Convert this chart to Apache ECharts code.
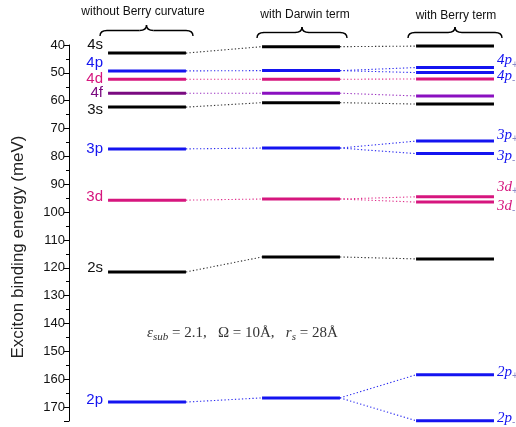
<!DOCTYPE html>
<html>
<head>
<meta charset="utf-8">
<script src="https://cdn.jsdelivr.net/npm/echarts@6/dist/echarts.min.js"></script>
<style>html,body{margin:0;padding:0;background:#fff}#c{width:516px;height:427px}</style>
</head>
<body>
<div id="c"></div>
<script>
// ---- data ----
const columnTitles = ['without Berry curvature', 'with Darwin term', 'with Berry term'];
const levelNames = ['4s', '4p', '4d', '4f', '3s', '3p', '3d', '2s', '2p'];
const noBerry = [42.9, 49.3, 52.3, 57.3, 62.3, 77.3, 95.7, 121.5, 168.2];
const darwin = [40.6, 49.2, 52.3, 57.3, 60.7, 77.0, 95.3, 116.1, 166.7];
const berryNames = ['4s', '4p+', '4p-', '4d', '4f', '3s', '3p+', '3p-', '3d+', '3d-', '2s', '2p+', '2p-'];
const berry = [40.4, 48.1, 49.9, 52.2, 58.3, 61.2, 74.5, 79.0, 94.5, 96.4, 116.8, 158.4, 174.9];
const yTicks = [40, 50, 60, 70, 80, 90, 100, 110, 120, 130, 140, 150, 160, 170];

// ---- styles ----
const barColor = {s: '#000000', p: '#1414f0', d: '#d6167e', f: '#7a0a80'};
const barColor2 = {s: '#000000', p: '#1414f0', d: '#d6167e', f: '#8a10c0'};
const dotColor = {s: '#333333', p: '#2a2af0', d: '#e0308c', f: '#9a30c0'};
const leftLabelDy = {'4s': -8, '4p': -8, '4d': 0, '4f': 0, '3s': 3, '3p': 0, '3d': -3, '2s': -4, '2p': -2};
const rightLabelDy = {'4p+': -7, '4p-': 3, '3p+': -6, '3p-': 2, '3d+': -10, '3d-': 4, '2p+': -3, '2p-': -3};
const HALF = 0.253;
const fam = n => n[1];

const cols = [
  {names: levelNames, vals: noBerry, colors: barColor},
  {names: levelNames, vals: darwin, colors: barColor2},
  {names: berryNames, vals: berry, colors: barColor2}
];

const bars = [];
cols.forEach((c, ci) => c.names.forEach((n, i) => bars.push({x: ci + 1, e: c.vals[i], name: n, col: ci, color: c.colors[fam(n)]})));

const links = [];
levelNames.forEach((n, i) => links.push({x1: 1 + HALF, e1: noBerry[i], x2: 2 - HALF, e2: darwin[i], color: dotColor[fam(n)]}));
levelNames.forEach((n, i) => {
  berryNames.forEach((b, j) => {
    if (b.slice(0, 2) === n) links.push({x1: 2 + HALF, e1: darwin[i], x2: 3 - HALF, e2: berry[j], color: dotColor[fam(n)]});
  });
});

const chart = echarts.init(document.getElementById('c'), null, {renderer: 'canvas'});

function brace(x0, x1, yT, yB) {
  const ym = (yT + yB) / 2, xc = (x0 + x1) / 2, r = 7;
  const st = {stroke: '#000', fill: null, lineWidth: 1.4};
  const q = (ax, ay, cx, cy, bx, by) => ({type: 'bezierCurve', shape: {x1: ax, y1: ay, cpx1: cx, cpy1: cy, x2: bx, y2: by}, style: st});
  const l = (ax, ay, bx, by) => ({type: 'line', shape: {x1: ax, y1: ay, x2: bx, y2: by}, style: st});
  return [
    q(x0, yB, x0, ym, x0 + r, ym),
    l(x0 + r, ym, xc - r, ym),
    q(xc - r, ym, xc, ym, xc, yT),
    q(xc, yT, xc, ym, xc + r, ym),
    l(xc + r, ym, x1 - r, ym),
    q(x1 - r, ym, x1, ym, x1, yB)
  ];
}

chart.setOption({
  animation: false,
  grid: {left: 69, right: 0, top: 45, bottom: 6},
  xAxis: {type: 'value', min: 0.4935, max: 3.396, show: false},
  yAxis: {
    type: 'value', inverse: true, min: 40, max: 175, interval: 10,
    axisLine: {show: true, onZero: false, lineStyle: {color: '#000', width: 1}},
    axisTick: {show: true, length: 5, lineStyle: {color: '#000'}},
    minorTick: {show: true, splitNumber: 2, length: 3, lineStyle: {color: '#000'}},
    splitLine: {show: false},
    axisLabel: {color: '#111', fontSize: 13, fontFamily: 'Liberation Sans, Arial', margin: 4, showMaxLabel: false,
      formatter: v => (yTicks.indexOf(v) >= 0 ? String(v) : '')}
  },
  series: [
    {
      type: 'custom', coordinateSystem: 'cartesian2d', clip: false,
      data: links.map(l => [l.x1, l.e1, l.x2, l.e2]),
      renderItem: (params, api) => {
        const l = links[params.dataIndex];
        const a = api.coord([l.x1, l.e1]), b = api.coord([l.x2, l.e2]);
        return {type: 'line', shape: {x1: a[0], y1: a[1], x2: b[0], y2: b[1]},
          style: {stroke: l.color, lineWidth: 1.1, lineDash: [1.3, 2.2]}};
      }
    },
    {
      type: 'custom', coordinateSystem: 'cartesian2d', clip: false,
      data: bars.map(b => [b.x, b.e]),
      renderItem: (params, api) => {
        const b = bars[params.dataIndex];
        const a = api.coord([b.x - HALF, b.e]), c = api.coord([b.x + HALF, b.e]);
        const children = [{type: 'line', shape: {x1: a[0], y1: a[1], x2: c[0], y2: c[1]},
          style: {stroke: b.color, lineWidth: 3}}];
        if (b.col === 0) {
          children.push({type: 'text', x: a[0] - 5, y: a[1] + leftLabelDy[b.name],
            style: {text: b.name, fill: b.color === '#000000' ? '#111' : b.color, font: '15px "Liberation Sans", Arial',
              align: 'right', verticalAlign: 'middle'}});
        }
        if (b.col === 2 && rightLabelDy[b.name] !== undefined) {
          const main = b.name.slice(0, 2), sub = b.name[2];
          children.push({type: 'text', x: c[0] + 3, y: c[1] + rightLabelDy[b.name],
            style: {text: `{m|${main}}{s|${sub}}`, align: 'left', verticalAlign: 'middle',
              rich: {
                m: {fill: b.color, font: 'italic 15px "Liberation Serif", "DejaVu Serif", serif'},
                s: {fill: '#8888c8', font: '10px "Liberation Sans", Arial', padding: [9, 0, 0, 0]}
              }}});
        }
        return {type: 'group', children};
      }
    }
  ],
  graphic: [
    {type: 'text', x: 143, y: 12, style: {text: columnTitles[0], font: '12px "Liberation Sans", Arial', fill: '#111', align: 'center', verticalAlign: 'middle'}},
    {type: 'text', x: 305, y: 15, style: {text: columnTitles[1], font: '12px "Liberation Sans", Arial', fill: '#111', align: 'center', verticalAlign: 'middle'}},
    {type: 'text', x: 456, y: 16, style: {text: columnTitles[2], font: '12px "Liberation Sans", Arial', fill: '#111', align: 'center', verticalAlign: 'middle'}},
    ...brace(100, 193, 25, 36),
    ...brace(257, 347, 27, 38),
    ...brace(408, 502, 27, 38),
    {type: 'text', x: 18, y: 247, rotation: Math.PI / 2,
      style: {text: 'Exciton binding energy (meV)', font: '17px "Liberation Sans", Arial', fill: '#222', align: 'center', verticalAlign: 'middle'}},
    {type: 'text', x: 147, y: 333,
      style: {text: '{i|ε}{b|sub}{n| = 2.1,   Ω = 10Å,   }{i|r}{b|s}{n| = 28Å}', align: 'left', verticalAlign: 'middle',
        rich: {
          i: {font: 'italic 15px "Liberation Serif", serif', fill: '#333'},
          b: {font: 'italic 11px "Liberation Serif", serif', fill: '#333', padding: [8, 0, 0, 0]},
          n: {font: '15px "Liberation Serif", serif', fill: '#333'}
        }}}
  ]
});
</script>
</body>
</html>
